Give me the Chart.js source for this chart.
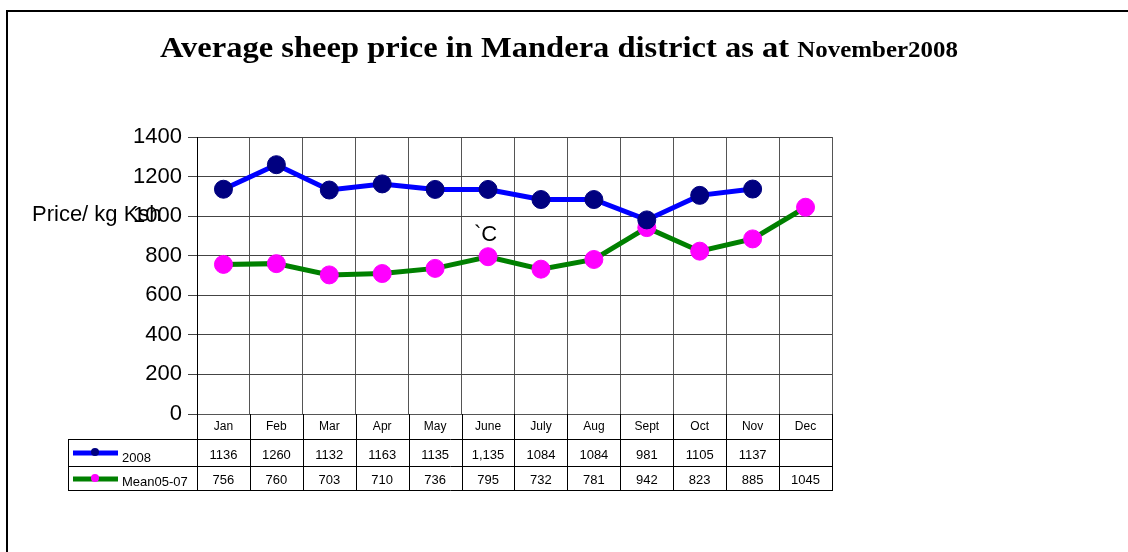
<!DOCTYPE html>
<html>
<head>
<meta charset="utf-8">
<script src="https://cdn.jsdelivr.net/npm/chart.js@4"></script>
<style>
html, body { margin: 0; padding: 0; background: #fff; }
</style>
</head>
<body>
<canvas id="myChart" width="1128" height="552"></canvas>
<script>
const meses = ['Jan', 'Feb', 'Mar', 'Apr', 'May', 'June', 'July', 'Aug', 'Sept', 'Oct', 'Nov', 'Dec'];
const precios2008 = [1136, 1260, 1132, 1163, 1135, 1135, 1084, 1084, 981, 1105, 1137, null];
const textos2008 = ['1136', '1260', '1132', '1163', '1135', '1,135', '1084', '1084', '981', '1105', '1137', ''];
const media0507 = [756, 760, 703, 710, 736, 795, 732, 781, 942, 823, 885, 1045];
const nombreSeries = ['2008', 'Mean05-07'];
const ticksY = [0, 200, 400, 600, 800, 1000, 1200, 1400];

const ctx = document.getElementById('myChart');

// marco, titulo, etiqueta del eje y tabla de datos
const extras = {
    id: 'extras',
    beforeDraw: (chart) => {
        let c = chart.ctx;
        c.save();
        c.fillStyle = '#fff';
        c.fillRect(0, 0, chart.width, chart.height);
        c.strokeStyle = '#000';
        c.lineWidth = 2;
        c.beginPath();
        c.moveTo(7, chart.height);
        c.lineTo(7, 11);
        c.lineTo(chart.width, 11);
        c.stroke();
        c.restore();
    },
    afterDraw: (chart) => {
        let c = chart.ctx;
        let x = chart.scales.x;
        let area = chart.chartArea;
        c.save();

        // titulo con dos tamaños, estirado al ancho del original
        let t1 = 'Average sheep price in Mandera district as at ';
        let t2 = 'November2008';
        c.fillStyle = '#000';
        c.textBaseline = 'alphabetic';
        c.font = 'bold 30px "Liberation Serif"';
        let w1 = c.measureText(t1).width;
        c.font = 'bold 23px "Liberation Serif"';
        let w2 = c.measureText(t2).width;
        let escala = 798 / (w1 + w2);
        c.save();
        c.translate(160, 57);
        c.scale(escala, 1);
        c.textAlign = 'left';
        c.font = 'bold 30px "Liberation Serif"';
        c.fillText(t1, 0, 0);
        c.font = 'bold 23px "Liberation Serif"';
        c.fillText(t2, w1, 0);
        c.restore();

        // etiqueta eje y
        c.font = '22px "Liberation Sans"';
        c.textAlign = 'left';
        c.fillText('Price/ kg Ksh', 32, 221);
        c.fillText('`C', 474, 241);

        // tabla de datos
        let ancho = x.getPixelForValue(1) - x.getPixelForValue(0);
        let bordes = meses.map((m, i) => x.getPixelForValue(i) - ancho / 2);
        bordes.push(area.right);
        let filas = [area.bottom, 439, 466, 490];
        let izq = 68;

        c.strokeStyle = '#000';
        c.lineWidth = 1;
        c.beginPath();
        bordes.forEach(b => {
            c.moveTo(Math.round(b) + 0.5, filas[0]);
            c.lineTo(Math.round(b) + 0.5, filas[3]);
        });
        c.moveTo(izq + 0.5, filas[1]);
        c.lineTo(izq + 0.5, filas[3]);
        [filas[1], filas[2], filas[3]].forEach(f => {
            c.moveTo(izq, f + 0.5);
            c.lineTo(area.right + 1, f + 0.5);
        });
        c.stroke();

        c.textAlign = 'center';
        c.textBaseline = 'middle';
        c.font = '12px "Liberation Sans"';
        meses.forEach((m, i) => c.fillText(m, x.getPixelForValue(i), 427));
        c.font = '13px "Liberation Sans"';
        textos2008.forEach((v, i) => c.fillText(v, x.getPixelForValue(i), 455));
        media0507.forEach((v, i) => c.fillText(String(v), x.getPixelForValue(i), 480));

        // leyenda dentro de la tabla
        let leyenda = [
            { y: 453, linea: '#0000ff', punto: '#000080', texto: nombreSeries[0], base: 462 },
            { y: 479, linea: '#008000', punto: '#ff00ff', texto: nombreSeries[1], base: 486 }
        ];
        leyenda.forEach(l => {
            c.strokeStyle = l.linea;
            c.lineWidth = 5;
            c.beginPath();
            c.moveTo(73, l.y);
            c.lineTo(118, l.y);
            c.stroke();
            c.fillStyle = l.punto;
            c.beginPath();
            c.arc(95, l.y - 1, 4, 0, Math.PI * 2);
            c.fill();
            c.fillStyle = '#000';
            c.textAlign = 'left';
            c.textBaseline = 'alphabetic';
            c.font = '13px "Liberation Sans"';
            c.fillText(l.texto, 122, l.base);
        });
        c.restore();
    }
};

let chart = new Chart(ctx, {
    type: 'line',
    data: {
        labels: meses,
        datasets: [{
            label: nombreSeries[0],
            data: precios2008,
            borderColor: '#0000ff',
            borderWidth: 5,
            pointBackgroundColor: '#000080',
            pointBorderColor: '#000080',
            pointRadius: 9,
            pointBorderWidth: 1,
            tension: 0
        },
        {
            label: nombreSeries[1],
            data: media0507,
            borderColor: '#008000',
            borderWidth: 5,
            pointBackgroundColor: '#ff00ff',
            pointBorderColor: '#ff00ff',
            pointRadius: 9,
            pointBorderWidth: 1,
            tension: 0
        }]
    },
    options: {
        responsive: false,
        animation: false,
        layout: {
            padding: { left: 0, top: 137, right: 296, bottom: 0 }
        },
        scales: {
            x: {
                offset: true,
                grid: { offset: true, color: '#555', drawTicks: false },
                border: { color: '#555' },
                ticks: { display: false },
                afterFit: (scale) => { scale.height = 138; }
            },
            y: {
                min: 0,
                max: 1400,
                afterBuildTicks: (scale) => { scale.ticks = ticksY.map(v => ({ value: v })); },
                grid: { color: '#444', tickLength: 9 },
                border: { color: '#000' },
                ticks: {
                    color: '#000',
                    padding: 6,
                    font: { family: 'Liberation Sans', size: 22 },
                    callback: (valor) => String(valor)
                },
                afterFit: (scale) => { scale.width = 197; }
            }
        },
        plugins: {
            legend: { display: false },
            title: { display: false },
            tooltip: { enabled: false }
        }
    },
    plugins: [extras]
});
</script>
</body>
</html>
